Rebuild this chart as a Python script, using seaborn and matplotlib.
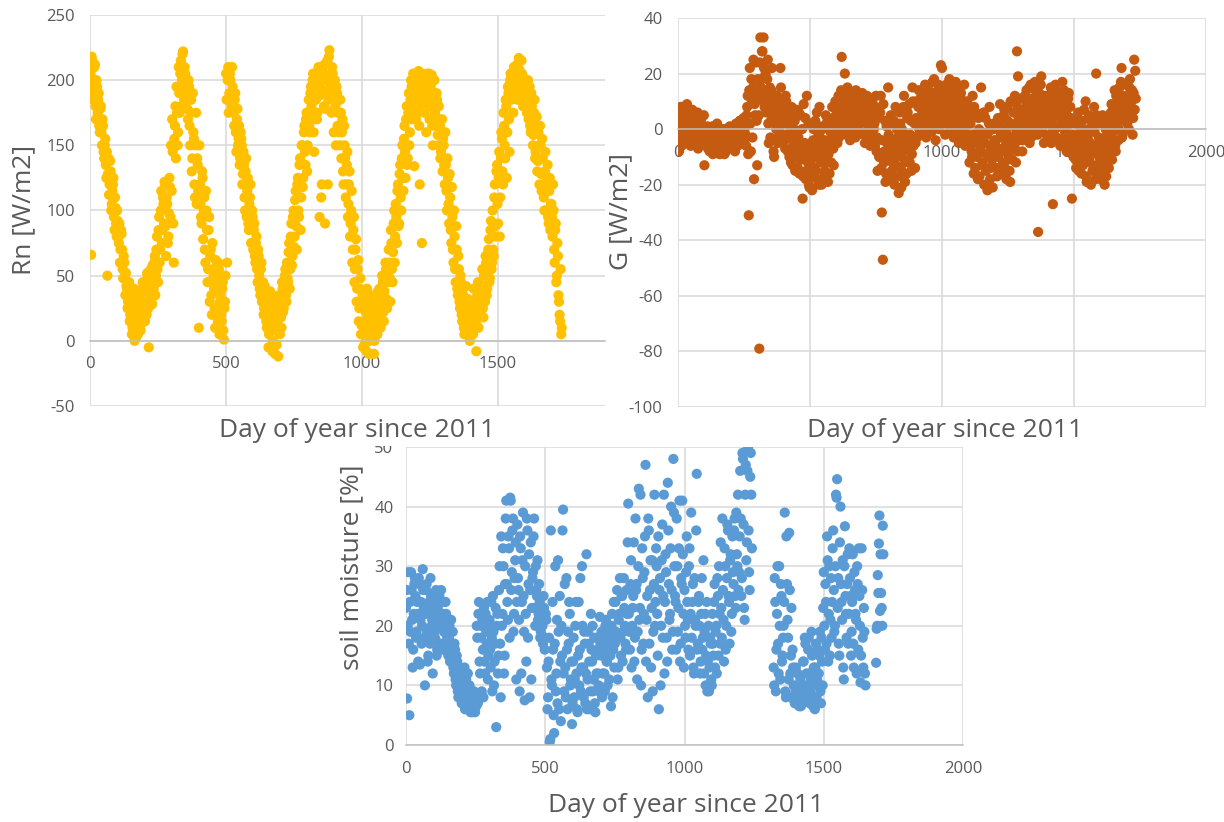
import numpy as np
import pandas as pd
import matplotlib
matplotlib.use("Agg")
import matplotlib.pyplot as plt
from matplotlib.patches import Rectangle
import seaborn as sns

sns.set_theme(style="white")
plt.rcParams["font.family"] = ["Open Sans", "DejaVu Sans"]
plt.rcParams["axes.unicode_minus"] = False

# Daily series (day 0 = 1 Jan 2011). Two interleaved sets of readings:
# "_a" lists start on day 0 and "_b" lists on day 2, each one every 4 days.
DAY_STEP = 4
OFFSET_B = 2
nan = np.nan

# Net radiation Rn [W/m2]
rn_a = [
    195, 66, 215, 185, 210, 180, 200, 175, 190, 160,
    180, 150, 165, 140, 155, 125, 50, 140, 120, 130, 105, 120, 95, 110, 90,
    100, 80, 90, 70, 82, 55, 65, 48, 52, 40, 30, 45, 20, 35, 10, 28, 0, 22, 15, 5, 30, 12, 25, 40, 18,
    30, 45, 20, 50, -5, 35, 55, 28, 45, 60, 35, 70, 55, 85, 60, 100, 75, 110, 90, 120, 65, 105, 80, 125, 95,
    115, 145, 60, 165, 140, 175, 160, 190, 205, 180, 220, 195, 210, 185, 200, 170, 195, 150, 185, 140, 160, 120, 150, 105, 135,
    10, 120, 95, 130, 78, 110, 60, 100, 45, 85, 30, 70, 20, 55, 40, 10, 50, 25, 60, 5, 35, 15, 45, 1, 30,
    205, 60, 210, 190, 200, 180, 195, 175, 185, 160, 170, 150, 165, 140, 155, 120, 145, 110, 130, 95, 125, 85, 110, 75, 100,
    70, 90, 60, 80, 45, 65, 40, 55, 30, 45, 25, 35, 15, 30, -5, 20, 10, 35, 0, 25, -10, 15, 30, -12, 20,
    30, 10, 40, 25, 50, 35, 60, 45, 75, 55, 90, 65, 100, 80, 115, 70, 125, 95, 140, 110, 150, 125, 165, 135, 175,
    150, 185, 160, 195, 170, 205, 145, 185, 200, 175, 210, 95, 190, 120, 205, 180, 90, 200, 215, 185, 223, 195, 175, 205, 160,
    200, 150, 190, 175, 160, 185, 140, 170, 120, 150, 110, 135, 95, 120, 80, 100, 60, 85, 45, 70, 30, 55, 15, 40, 5,
    25, -5, 15, 30, -8, 10, 20, 0, 35, 5, 25, -10, 15, 30, 5, 20, 40, 10, 25, 45, 15, 30, 55, 25, 45,
    60, 30, 75, 45, 90, 60, 105, 75, 120, 90, 135, 100, 150, 115, 165, 125, 180, 140, 190, 160, 200, 170, 205, 134, 185,
    195, 175, 207, 120, 190, 75, 200, 180, 195, 160, 205, 185, 170, 195, 204, 150, 190, 175, 165, 185, 150, 170, 140, 160, 130,
    150, 120, 135, 100, 125, 90, 110, 75, 95, 60, 80, 45, 70, 35, 55, 25, 45, 15, 35, 5, 30, 20, 10, 25, 0,
    15, 30, 5, 25, 20, -8, 35, 10, 30, 20, 40, 25, 50, 30, 60, 40, 70, 45, 85, 55, 100, 65, 120, 80, 135,
    90, 145, 110, 160, 130, 175, 150, 185, 125, 195, 170, 200, 185, 205, 175, 210, 195, 200, 185, 217, 200, 190, 205, 180, 195,
    200, 185, 190, 170, 195, 160, 180, 150, 175, 140, 165, 130, 160, 120, 150, 115, 140, 110, 130, 100, 125, 95, 115, 85, 105,
    80, 100, 60, 90, 50, 65, 30, 15, 5,
]
rn_b = [
    205, 218, 190, 200, 212, 170, 195, 185, 165, 178,
    160, 170, 145, 150, 135, 145, 128, 112, 138, 100, 115, 125, 85, 102, 80,
    92, 75, 60, 85, 70, 48, 60, 35, 42, 25, 38, 15, 32, 5, 22, 40, 12, 3, 28, 18, 35, 8, 20, 45, 30,
    15, 38, 52, 25, 42, 48, 30, 58, 40, 65, 50, 80, 45, 95, 70, 115, 85, 105, 122, 88, 110, 75, 98, 118, 150,
    170, 90, 155, 180, 195, 150, 210, 175, 215, 200, 222, 185, 205, 190, 178, 200, 165, 175, 130, 190, 155, 110, 175, 140, 115,
    150, 105, 90, 125, 100, 70, 115, 85, 55, 95, 65, 35, 75, 50, 25, 62, 45, 15, 55, 30, 20, 40, 8, 25, 50,
    185, 200, 175, 205, 190, 210, 180, 165, 190, 145, 178, 155, 135, 160, 150, 128, 135, 100, 140, 115, 90, 105, 120, 88, 95,
    85, 65, 75, 55, 70, 50, 35, 60, 38, 20, 42, 28, 10, 25, 5, 38, 15, -8, 28, 8, 20, -3, 12, 35, 5,
    18, 45, 22, 38, 55, 30, 48, 68, 40, 80, 58, 95, 72, 108, 88, 120, 100, 135, 85, 150, 118, 160, 145, 170, 130,
    175, 165, 190, 180, 200, 160, 195, 185, 170, 205, 188, 198, 110, 208, 192, 212, 178, 200, 120, 218, 190, 205, 210, 185, 198,
    180, 195, 165, 185, 150, 175, 160, 130, 165, 140, 120, 145, 105, 130, 90, 115, 70, 95, 55, 78, 40, 62, 25, 48, 12,
    35, 10, -2, 22, 40, 5, -10, 28, 12, 18, 32, 0, 22, 8, 38, 28, 15, 35, 50, 22, 38, 60, 32, 52, 70,
    48, 85, 55, 68, 100, 80, 95, 115, 88, 128, 110, 140, 125, 155, 145, 170, 135, 175, 150, 185, 195, 178, 188, 200, 170,
    185, 200, 165, 195, 180, 205, 190, 175, 200, 185, 193, 205, 180, 198, 165, 188, 200, 172, 190, 158, 180, 165, 145, 170, 155,
    135, 160, 115, 140, 105, 128, 85, 118, 70, 100, 55, 88, 40, 65, 30, 50, 20, 40, 10, 28, 42, 15, 32, 5, 22,
    25, 8, 40, 15, 32, 12, 45, 22, 38, 28, 55, 18, 42, 65, 35, 52, 78, 48, 92, 60, 70, 110, 88, 130, 105,
    125, 80, 140, 155, 120, 165, 140, 180, 160, 190, 145, 205, 190, 198, 210, 188, 205, 212, 195, 208, 200, 215, 188, 202, 192,
    192, 175, 200, 185, 165, 190, 170, 158, 185, 145, 172, 138, 150, 165, 128, 155, 120, 100, 145, 118, 135, 90, 125, 105, 95,
    120, 70, 85, 45, 75, 35, 20, 55, 10,
]

# Soil heat flux G [W/m2]
g_a = [
    0, -8, 5, -3, 8, 2, -5, 6, 3, -2, 7, 0, -6, 4, 1, -4, 5, -1, 3, -7, 2, -3, 4, -5, 1,
    -13, -2, -6, 1, -4, -8, 0, -3, -9, -1, -5, -7, 2, -4, -8, -2, -6, 0, -5, -9, -3, -1, -7, -4, 1,
    -3, -6, 0, -2, -8, 2, -4, 1, -5, 3, -1, -3, 4, 0, -2, 5, 12, -31, 22, -8, 10, 15, -18, 5, 24,
    -13, 12, -79, 33, 18, 28, 33, 8, 20, 12, 25, -5, 15, 3, 22, 8, -10, 12, 0, 6, -3, 10, 22, 5, -2,
    8, -4, 12, 2, -8, 6, -2, -12, 4, -6, 0, -15, 7, -10, -3, -16, 5, -8, -25, 9, -5, -18, 12, -12, -20,
    -8, 2, -22, -4, -14, 3, -10, -18, -2, 8, -12, -20, 0, -6, -15, 5, -9, -19, 2, -4, -12, 8, -7, -2, 10,
    2, -5, 12, 6, 0, 26, 9, 3, 20, -2, 14, 5, 10, -4, 8, 13, 2, 6, -3, 11, 4, 8, -1, 12, 5,
    3, 9, -5, 6, 12, 0, 7, -6, 4, 10, -3, 2, 8, -8, -15, 5, -10, 12, -30, -47, -12, 3, -16, -5, 15,
    -8, -18, 2, -12, -5, -20, 8, -10, -3, -23, 6, -14, 0, -8, 12, -19, -4, 4, -12, 9, -2, -15, 15, -6, 2,
    -5, 10, 3, 14, -2, 8, 12, 0, 5, 16, -3, 10, 2, 13, 7, -1, 17, 4, 11, -4, 6, 14, 0, 8, 23,
    22, 5, 12, -2, 16, 8, 3, 18, 10, 0, 14, -3, 6, 17, 2, 11, -5, 8, 13, -2, 5, 16, -6, 3, 10,
    -4, -12, 2, -8, 12, -16, -2, 6, -10, -18, 0, -6, 15, -13, -3, -20, 4, -9, -22, -1, 8, -14, -6, -21, 2,
    -10, -4, -17, 4, -8, 9, -2, -13, 0, 7, -6, -18, 3, -9, -15, 10, -3, -7, 1, 12, -12, 28, 19, -4, 6,
    2, -8, 11, 5, -3, 14, 0, 8, -5, 16, 4, -2, 10, 17, 1, 7, -37, 13, 3, 19, -1, 9, 5, 12, -4,
    6, 12, -2, 15, 3, -27, 9, 0, 14, -4, 7, 11, -6, 2, 17, 5, -3, 10, -8, 1, 13, -5, 4, -25, -2,
    -8, 2, -14, -4, 6, -10, -1, -16, 3, -7, -12, 10, -19, -3, 5, -9, -20, 0, -13, 8, -6, 20, -15, 2, -10,
    -18, -4, 5, -12, -20, 0, -8, 3, -14, -2, 6, -11, -1, 8, -6, 12, 2, -4, 15, 5, 22, -2, 10, 3, 16,
    6, 12, 0, 18, 8, 14, 4, 25, 21,
]
g_b = [
    4, -3, 8, -6, 2, 6, -2, 0, 9, -4, 3, 5, -1, 7, -5, 2, 4, -3, 6, 0, -4, 3, 1, -2, 5,
    -5, -3, 0, -7, -2, -6, -4, 1, -7, -3, -6, 0, -5, -2, -9, -4, -1, -6, -3, 0, -8, -5, -2, -6, -3,
    -1, -5, -3, 1, -4, 0, -6, -2, 3, -3, 2, -1, -4, 3, -6, 8, -9, 14, 2, 18, -3, 25, 9, 12, 3,
    18, 5, 24, 15, 28, 10, 22, 14, 6, 18, 2, 10, -3, 14, 6, -8, 9, 3, 12, -5, 7, 1, 15, -2, 10,
    3, -7, 10, -2, 5, -10, 1, 8, -13, -4, 3, -9, -1, -14, 6, -6, -11, 0, -17, -7, 4, -15, -9, 2, -21,
    -12, -5, -17, 0, -9, -15, 6, -6, -20, -3, -11, 1, -8, -17, -4, -12, 3, -9, -16, -1, -6, 4, -13, 0, 7,
    5, 10, -3, 8, 14, 3, 7, 12, 1, 9, 15, 4, -2, 11, 6, 0, 9, 3, 14, 7, -2, 10, 2, 6, 13,
    6, -2, 10, 4, -4, 8, 2, 11, -1, 6, 0, -6, 12, -3, 4, -10, 6, -14, -4, 9, -8, -19, 1, -11, -2,
    -4, 5, -15, -9, 3, -6, -13, 0, -17, -8, 2, -21, -5, 8, -11, -2, -16, 6, -7, -12, 3, -9, 10, -3, -14,
    4, -3, 8, 0, 11, 5, -2, 14, 9, 2, 7, 15, 4, 10, -1, 13, 8, 18, 2, 12, 6, 16, 9, 3, 11,
    8, 15, 2, 11, 6, 13, 17, 1, 9, 12, 4, 16, 7, -1, 11, 3, 14, 0, 9, 5, -3, 10, 1, 7, -2,
    2, -6, 5, -10, -2, 8, -14, -4, -9, 4, -17, -7, -1, -12, 6, -5, -15, -2, -10, 2, -18, -7, -13, 0, -4,
    -6, -14, 0, -10, 3, -3, -16, -7, 5, -12, -1, 8, -9, -4, -19, 2, -11, 6, -6, -2, 9, -8, 4, 11, -1,
    7, -4, 3, 12, -1, 9, 5, 15, 2, -3, 11, 6, 0, 14, 8, -2, 10, 4, 16, 1, 12, -5, 6, 9, 2,
    10, 2, 7, -5, 12, 0, 5, 16, -3, 8, 1, 13, 4, -6, 9, 14, -1, 6, 2, 11, -4, 8, -7, 3, -10,
    -3, -11, 4, -6, -15, 1, -9, -4, -13, 7, -2, -17, -8, 0, -11, -5, 3, -15, -7, -1, -18, 5, -9, -3, -12,
    -6, -15, 2, -9, -3, -17, 4, -6, 0, -10, 9, -4, 3, 14, -8, 5, 10, 0, 7, 17, -3, 12, 4, 8, 11,
    2, 9, 15, 5, 10, -2, 13, 7, 11,
]

# Soil moisture [%] (nan = no reading)
sm_a = [
    23, 7.8, 29, 5, 19, 26, 13, 22, 28, 18, 24, 14, 27, 21, 17, 29.5, 23, 10, 26, 19, 15, 24, 28, 20, 12,
    22, 18, 26, 16, 21, 25, 17, 20, 24, 19, 16, 22, 18, 15, 20, 17, 14, 19, 12, 16, 10, 14, 8, 13, 11,
    7, 12, 9, 6, 11, 8, 6.5, 10, 5.5, 7, 6, 9, 5.5, 6.5, 18, 22, 14, 20, 9, 16, 23, 12, 19, 24, 15,
    21, 13, 18, 25, 10, 17, 3, 22, 15, 30, 8, 20, 33, 12, 27, 41, 24, 35, 18, 41, 29, 38, 22, 31, 11,
    37, 26, 9, 33, 24, 39, 19, 30, 14, 36, 27, 8, 34, 23, 29, 38, 20, 26, 31, 22, 24, 19, 21, 17, 23,
    18, 21, 6, 14, 0.5, 36, 10, 16, 2, 30, 12, 7, 19, 25, 4, 15, 39.5, 9, 13, 28, 6, 17, 22, 11, 3.5,
    14, 8, 20, 12, 5.5, 24, 16, 9, 30, 13, 19, 7, 32, 11, 17, 6, 22, 14, 9, 18, 5.5, 12, 16, 10, 21.5,
    15, 8, 18, 12, 20, 14, 10, 17, 19, 6.5, 22, 16, 13, 24, 18, 11, 21, 28, 15, 25, 19, 23, 17, 26, 34,
    22, 16, 31, 20, 25, 14, 38, 27, 19, 43, 23, 10, 33, 17, 29, 47, 21, 8, 36, 26, 13, 31, 19, 42, 24,
    30, 15, 6, 28, 20, 37, 25, 12, 32, 18, 44, 27, 22, 40, 16, 48, 30, 24, 38, 19, 33, 14, 28, 41, 22,
    26, 18, 35, 21, 30, 15, 39, 24, 13, 28, 20, 45.5, 17, 25, 12, 22, 16, 31, 19, 10, 24, 14, 9, 18, 11,
    22, 15, 27, 19, 12, 25, 30, 17, 23, 38, 21, 33, 16, 28, 36, 24, 31, 19, 35, 27, 38, 23, 32, 42, 29,
    46, 25, 49, 37, 21, 47, 34, 50, 29, 45, 42, nan, nan, nan, nan, nan, nan, nan, nan, nan, nan, nan, nan, nan, nan,
    nan, nan, nan, nan, nan, 13, 28, 9, 22, 17, 30, 11, 25, 15, 20, 39, 8, 27, 18, 35.6, 12, 23, 16, 10, 7,
    13, 7, 9, 6.5, 11, 7, 8, 14, 18, 10, 7.5, 16, 12, 9, 19, 8, 13, 6, 17, 11, 7, 15, 9, 18, 10,
    29, 16, 24, 35, 14, 30, 21, 18, 33, 26, 20, 42, 44.6, 28, 15, 40, 24, 31, 11, 36.7, 22, 27, 17, 33, 25,
    19, 32, 13, 26, 21, 30, 16, 25, 10.5, 33, 18, 23, 12, nan, nan, nan, nan, nan, nan, nan, nan, nan, 13.8, 20, 25.5,
    38.5, 32, 23, 36.8,
]
sm_b = [
    26, 20, 17, 24, 29, 21, 16, 27, 25, 19, 22, 28, 13.5, 24, 20, 26, 18, 22, 27, 14, 23, 17, 25, 21, 18,
    19, 24, 15, 23, 20, 17, 26, 22, 16, 21, 24, 17, 20, 18, 14, 21, 16, 13, 17, 11, 15, 9, 12, 10, 8,
    10, 8, 13, 7, 9, 12, 6, 8, 7, 5.5, 9, 6, 8, 20, 7, 24, 12, 18, 21, 8, 14, 22, 17, 11, 20,
    16, 24, 9, 19, 14, 23, 20, 12, 26, 17, 35, 22, 30, 15, 38, 27, 21, 33, 41.5, 26, 36, 19, 28, 34, 24,
    28, 21, 35, 12, 31, 25, 7.5, 22, 38, 18, 32, 26, 11, 28, 35, 23, 30, 25, 21, 27, 18, 23, 20, 25, 16,
    22, 13, 8, 18, 1, 11, 24, 5, 17, 9, 21, 31, 6, 14, 20, 36, 12, 27, 8, 16, 19, 24, 10, 14, 7,
    18, 11, 24, 6, 15, 10, 28, 13, 20, 8, 17, 12, 6, 19, 14, 9, 16, 20, 11, 7, 15, 18, 12, 9, 17,
    19, 12, 16, 9, 21, 14, 18, 11, 15, 20, 8, 24, 17, 19, 26, 13, 22, 18, 25, 14, 28, 20, 16, 22, 40.5,
    19, 27, 13, 23, 34, 18, 26, 11, 30, 21, 42, 16, 28, 22, 35, 14, 25, 38, 17, 31, 23, 9, 27, 20, 33,
    22, 35, 26, 10, 31, 18, 42, 24, 29, 14, 36, 21, 33, 26, 19, 39, 25, 16, 30, 23, 41, 17, 27, 32, 13,
    20, 29, 24, 16, 33, 22, 18, 27, 12, 21, 36, 16, 24, 20, 14, 28, 18, 12, 22, 15, 9, 20, 13, 17, 10,
    17, 24, 13, 20, 28, 15, 22, 34, 18, 26, 14, 30, 20, 37, 25, 17, 32, 22, 29, 36, 25, 39, 30, 26, 35,
    38, 28, 48, 23, 42, 31, 46, 36, 26, 49, 33, nan, nan, nan, nan, nan, nan, nan, nan, nan, nan, nan, nan, nan, nan,
    nan, nan, nan, nan, nan, 10, 24, 16, 30, 12, 20, 27, 14, 18, 24, 9, 35, 21, 11, 26, 15, 8, 13, 7.5, 9,
    8, 12, 7, 9, 6.5, 10, 14, 8, 17, 12, 9, 18, 7, 11, 15, 6.5, 10, 13, 8, 16, 12, 19, 7, 14, 23,
    20, 27, 17, 31, 22, 15, 28, 24, 36, 19, 30, 41.5, 23, 17, 34, 27, 21, 13, 30, 25, 18, 32, 22, 28, 15,
    24, 17, 29, 22, 12, 27, 33, 20, 15, 26, 13, 19, 10, nan, nan, nan, nan, nan, nan, nan, nan, nan, 19.5, 28.5, 33.8,
    22.5, 25.5, 20, 32,
]

X_LABEL = "Day of year since 2011"
TICK_GRAY = "#595959"
GRID_GRAY = "#D9D9D9"
AXIS_GRAY = "#BFBFBF"


def frame(values_a, values_b, name):
    days_a = np.arange(len(values_a)) * DAY_STEP
    days_b = np.arange(len(values_b)) * DAY_STEP + OFFSET_B
    df = pd.DataFrame({"day": np.concatenate([days_a, days_b]),
                       name: np.concatenate([values_a, values_b])})
    return df.dropna().sort_values("day")


rn_df = frame(rn_a, rn_b, "Rn")
g_df = frame(g_a, g_b, "G")
sm_df = frame(sm_a, sm_b, "SM")

W, H = 1224, 822
fig = plt.figure(figsize=(W / 100, H / 100), dpi=100)


def px_axes(left, top, right, bottom, **kw):
    return fig.add_axes([left / W, 1 - bottom / H, (right - left) / W, (bottom - top) / H], **kw)


def px_text(x, y, s, **kw):
    fig.text(x / W, 1 - y / H, s, ha="center", va="center", fontsize=19,
             color=TICK_GRAY, **kw)


def style(ax, xlim, ylim, yticks, zero_axis, xpad, ypad):
    ax.set_xlim(*xlim)
    ax.set_ylim(*ylim)
    ax.set_yticks(yticks)
    ax.set_xticks([t for t in (0, 500, 1000, 1500, 2000) if t <= xlim[1]])
    ax.grid(True, color=GRID_GRAY, lw=1.1)
    ax.set_axisbelow(True)
    for s in ("top", "right", "left"):
        ax.spines[s].set_visible(False)
    ax.spines["bottom"].set_color(AXIS_GRAY)
    ax.spines["bottom"].set_linewidth(1.1)
    if zero_axis:
        ax.spines["bottom"].set_position(("data", 0))
    ax.tick_params(axis="both", length=0, labelsize=12, labelcolor=TICK_GRAY)
    ax.tick_params(axis="x", pad=xpad)
    ax.tick_params(axis="y", pad=ypad)
    ax.set_xlabel("")
    ax.set_ylabel("")


dot = dict(s=54, edgecolor="none", linewidth=0, legend=False)

# Bottom panel first so the upper panels sit on top of its clipped edge
ax3 = px_axes(406, 447, 963, 745, zorder=0)
sns.scatterplot(data=sm_df, x="day", y="SM", color="#5B9BD5", ax=ax3, **dot)
style(ax3, (0, 2000), (0, 50), [0, 10, 20, 30, 40, 50], False, 11.5, 9)

fig.patches.append(Rectangle((300 / W, 1 - 446 / H), 700 / W, 446 / H,
                             transform=fig.transFigure, facecolor="white",
                             edgecolor="none", zorder=1))

ax1 = px_axes(90, 15, 605, 406, zorder=2)
sns.scatterplot(data=rn_df, x="day", y="Rn", color="#FFC000", ax=ax1, **dot)
style(ax1, (0, 1893), (-50, 250), [-50, 0, 50, 100, 150, 200, 250], True, 11, 11)

ax2 = px_axes(678, 18, 1206, 407, zorder=2)
sns.scatterplot(data=g_df, x="day", y="G", color="#C55A11", ax=ax2, **dot)
style(ax2, (0, 2000), (-100, 40), [-100, -80, -60, -40, -20, 0, 20, 40], True, 11.5, 11)

# Axis titles
px_text(357, 430, X_LABEL)
px_text(945, 430, X_LABEL)
px_text(686, 805, X_LABEL)
px_text(24, 210, "Rn [W/m2]", rotation=90)
px_text(621, 212, "G [W/m2]", rotation=90)
px_text(352, 567, "soil moisture [%]", rotation=90)

fig.savefig("out.png", dpi=100, facecolor="white")
